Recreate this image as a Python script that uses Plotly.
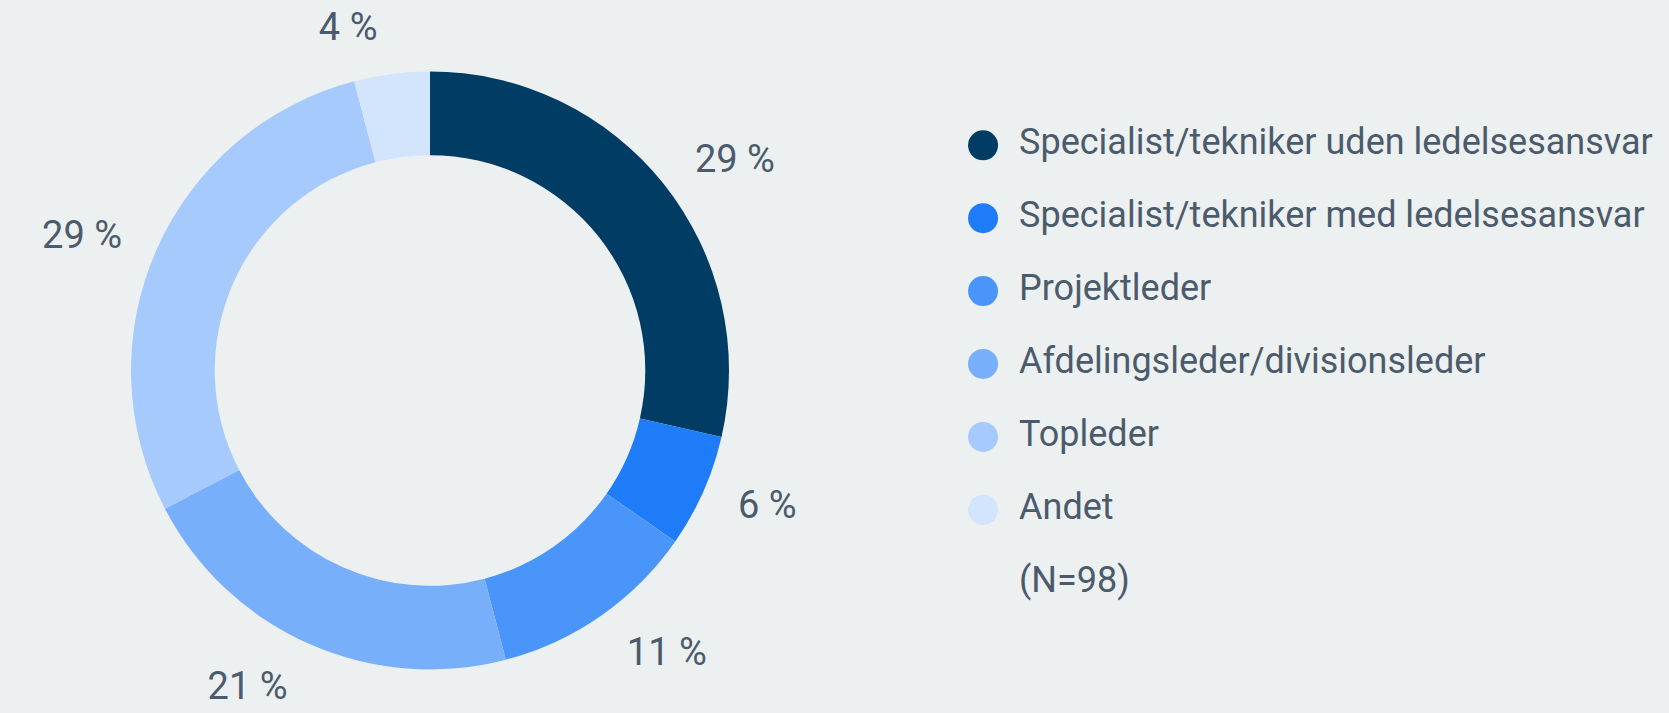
import plotly.graph_objects as go

categories = ["Specialist/tekniker uden ledelsesansvar",
              "Specialist/tekniker med ledelsesansvar",
              "Projektleder",
              "Afdelingsleder/divisionsleder",
              "Topleder",
              "Andet"]
counts = [28, 6, 11, 21, 28, 4]
colors = ["#003c64", "#1e7cf8", "#4a95f9", "#78affa", "#a7cafd", "#d3e4fd"]
note = "(N=98)"

total = sum(counts)
labels_txt = [f"{round(c / total * 100)} %" for c in counts]
rows = categories + [note]

FONT = "Roboto"
TXT = "#4b5b6b"
BG = "#ecf0f1"

fig = go.Figure()
# visible donut
fig.add_trace(go.Pie(
    labels=categories, values=counts,
    textinfo="none",
    marker=dict(colors=colors, line=dict(width=0)),
    hole=0.72, sort=False, direction="clockwise", rotation=0,
    showlegend=False, hoverinfo="label+percent",
    domain=dict(x=[0.0767, 0.4386], y=[0.056, 0.903]),
))
# transparent, slightly larger ring carrying the outside percentage labels
fig.add_trace(go.Pie(
    labels=categories, values=counts, text=labels_txt,
    texttemplate="%{text}", textposition="outside",
    textfont=dict(family=FONT, size=38, color=TXT),
    marker=dict(colors=["rgba(0,0,0,0)"] * len(counts), line=dict(width=0)),
    hole=0.99, sort=False, direction="clockwise", rotation=0,
    showlegend=False, hoverinfo="skip",
    domain=dict(x=[0.0617, 0.4536], y=[0.0196, 0.9397]),
))

# legend drawn as a category-axis scatter (large round symbols)
fig.add_trace(go.Scatter(
    x=[0] * len(categories), y=categories, mode="markers",
    marker=dict(color=colors, size=30, symbol="circle", line=dict(width=0)),
    showlegend=False, hoverinfo="skip", cliponaxis=False,
))
fig.add_trace(go.Scatter(
    x=[0.0525] * len(rows), y=rows, mode="text", text=rows,
    textposition="middle right",
    textfont=dict(family=FONT, size=36, color=TXT),
    showlegend=False, hoverinfo="skip", cliponaxis=False,
))

fig.update_layout(
    width=1669, height=713,
    paper_bgcolor=BG, plot_bgcolor="rgba(0,0,0,0)",
    margin=dict(l=0, r=0, t=0, b=0),
    xaxis=dict(visible=False, domain=[0.589, 1.0], range=[0, 1], fixedrange=True),
    yaxis=dict(visible=False, domain=[0.1273, 0.8501], type="category",
               categoryorder="array", categoryarray=rows,
               range=[len(rows) - 0.5, -0.5], fixedrange=True),
    font=dict(family=FONT, color=TXT),
    showlegend=False,
)

fig.write_html("out.html", config={"displayModeBar": False},
               post_script="document.body.style.margin='0';")
